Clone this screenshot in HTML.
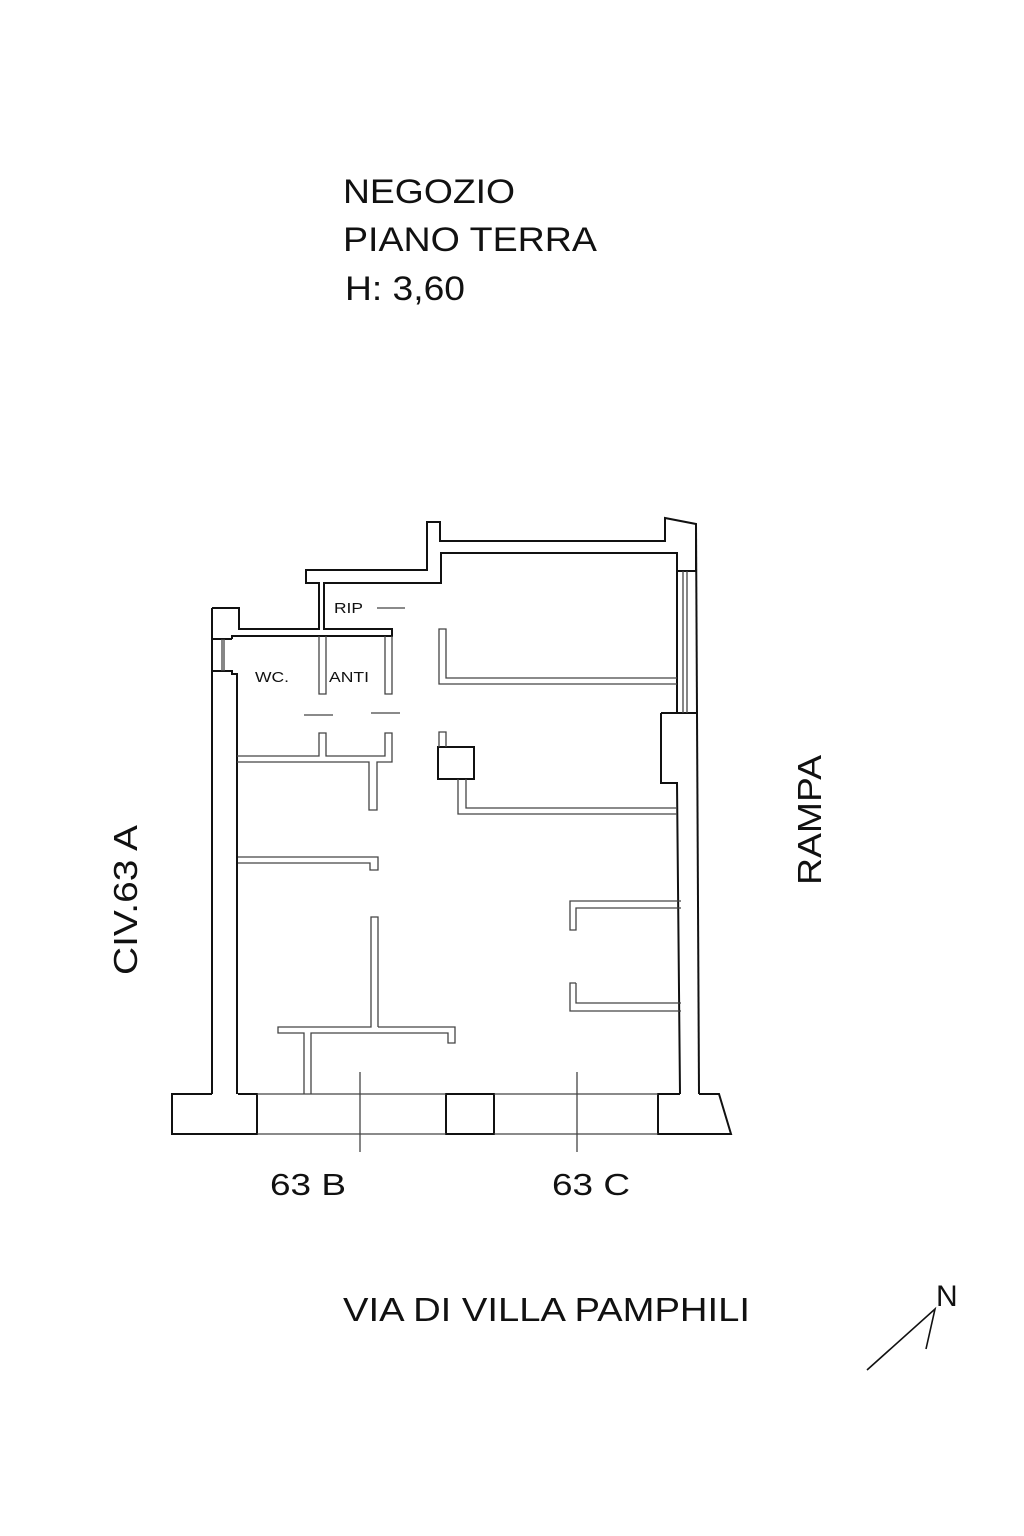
<!DOCTYPE html>
<html><head><meta charset="utf-8"><style>
html,body{margin:0;padding:0;background:#fff;}
svg{display:block;}
text{font-family:"Liberation Sans",Arial,sans-serif;fill:#111;}
</style></head><body>
<svg width="1024" height="1536" viewBox="0 0 1024 1536" xmlns="http://www.w3.org/2000/svg">
<rect width="1024" height="1536" fill="#fff"/>
<!-- titles -->
<text x="343" y="203" font-size="34" textLength="172" lengthAdjust="spacingAndGlyphs">NEGOZIO</text>
<text x="343" y="251" font-size="34" textLength="254" lengthAdjust="spacingAndGlyphs">PIANO TERRA</text>
<text x="345" y="300" font-size="34" textLength="120" lengthAdjust="spacingAndGlyphs">H: 3,60</text>

<g fill="none" stroke="#111" stroke-width="2" stroke-linejoin="miter">
<!-- outer top polyline -->
<polyline points="212,608 239,608 239,629 319,629 319,583 306,583 306,570 427,570 427,522 440,522 440,541 665,541 665,518 696,524 696,571 677,571 677,553 441,553 441,583 324,583 324,629 392,629 392,636 232,636 232,639"/>
<!-- left outer wall -->
<line x1="212" y1="608" x2="212" y2="1094"/>
<polyline points="212,671 232,671 232,674 237,674 237,1094"/>
<line x1="212" y1="639" x2="232" y2="639"/>
<!-- right walls -->
<line x1="696" y1="524" x2="699" y2="1094"/>
<polyline points="661,713 696,713"/>
<polyline points="677,571 677,713"/>
<polyline points="661,713 661,783 677,783 680,1094"/>
<!-- bottom base -->
<polyline points="212,1094 172,1094 172,1134 257,1134 257,1094 238,1094"/>
<rect x="446" y="1094" width="48" height="40"/>
<polyline points="680,1094 658,1094 658,1134 731,1134 719,1094 699,1094"/>
<rect x="438" y="747" width="36" height="32"/>
</g>

<g fill="none" stroke="#444" stroke-width="1.3">
<!-- window lines -->
<line x1="222" y1="639" x2="222" y2="671"/><line x1="224" y1="639" x2="224" y2="671"/>
<line x1="683" y1="571" x2="683" y2="713"/><line x1="687" y1="571" x2="687" y2="713"/>
<line x1="257" y1="1094" x2="446" y2="1094"/><line x1="257" y1="1134" x2="446" y2="1134"/>
<line x1="494" y1="1094" x2="658" y2="1094"/><line x1="494" y1="1134" x2="658" y2="1134"/>
<!-- WC / ANTI partitions -->
<polyline points="319,636 319,694 326,694 326,636"/>
<polyline points="385,636 385,694 392,694 392,636"/>
<line x1="377" y1="608" x2="405" y2="608"/>
<line x1="304" y1="715" x2="333" y2="715"/>
<line x1="371" y1="713" x2="400" y2="713"/>
<polyline points="237,756 319,756 319,733 326,733 326,756 385,756 385,733 392,733 392,762 377,762 377,810 369,810 369,762 237,762"/>
<!-- right L walls -->
<polyline points="677,678 446,678 446,629 439,629 439,684 677,684"/>
<polyline points="439,747 439,732 446,732 446,747"/>
<polyline points="466,779 466,808 677,808"/>
<polyline points="458,779 458,814 677,814"/>
<!-- mid left wall -->
<polyline points="238,857 378,857 378,870 370,870 370,863 238,863"/>
<!-- T wall -->
<polyline points="378,1027 378,917 371,917 371,1027 278,1027 278,1033 304,1033 304,1094"/>
<polyline points="311,1094 311,1033 448,1033 448,1043 455,1043 455,1027 378,1027"/>
<!-- right small walls -->
<polyline points="681,901 570,901 570,930 576,930 576,908 681,908"/>
<polyline points="576,983 570,983 570,1011 681,1011"/>
<polyline points="576,983 576,1003 681,1003"/>
<!-- leaders -->
<line x1="360" y1="1072" x2="360" y2="1152"/>
<line x1="577" y1="1072" x2="577" y2="1152"/>
</g>

<text x="334" y="613" font-size="15" textLength="29" lengthAdjust="spacingAndGlyphs">RIP</text>
<text x="255" y="682" font-size="15" textLength="34" lengthAdjust="spacingAndGlyphs">WC.</text>
<text x="329" y="682" font-size="15" textLength="40" lengthAdjust="spacingAndGlyphs">ANTI</text>

<text x="270" y="1195" font-size="31" textLength="76" lengthAdjust="spacingAndGlyphs">63 B</text>
<text x="552" y="1195" font-size="31" textLength="78" lengthAdjust="spacingAndGlyphs">63 C</text>
<text x="343" y="1321" font-size="33" textLength="407" lengthAdjust="spacingAndGlyphs">VIA DI VILLA PAMPHILI</text>

<text transform="translate(137,975) rotate(-90)" font-size="33" textLength="150" lengthAdjust="spacingAndGlyphs">CIV.63 A</text>
<text transform="translate(821,885) rotate(-90)" font-size="33" textLength="130" lengthAdjust="spacingAndGlyphs">RAMPA</text>

<g stroke="#111" stroke-width="1.6" fill="none">
<polyline points="867,1370 935,1309 926,1349"/>
</g>
<text x="936" y="1306" font-size="30">N</text>
</svg>
</body></html>
